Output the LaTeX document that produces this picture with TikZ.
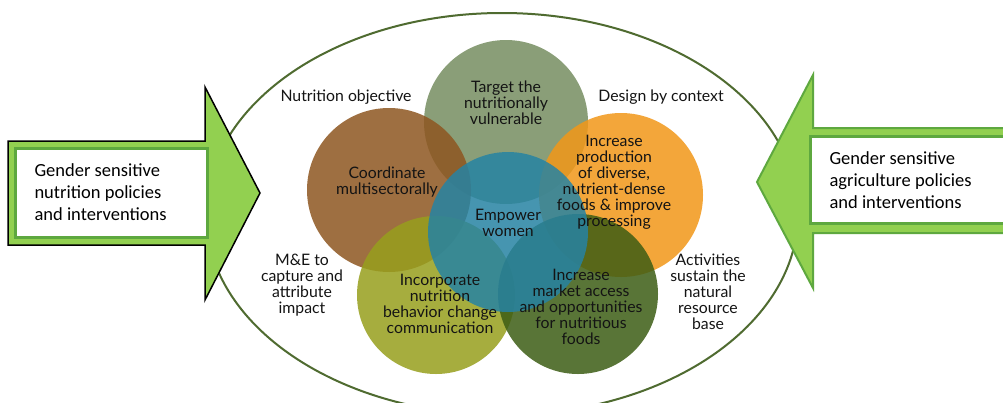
\documentclass[tikz,border=0pt]{standalone}
\usepackage{fontspec}
\setmainfont{Lato}
\newfontfamily\boxfont{Carlito}
\usetikzlibrary{shapes.geometric}

\definecolor{ringgreen}{HTML}{4F6B30}
\definecolor{arrowfill}{HTML}{92D050}
\definecolor{arrowline}{HTML}{5EA83F}
\definecolor{cTarget}{HTML}{768E61}
\definecolor{cCoord}{HTML}{8E5620}
\definecolor{cProd}{HTML}{F29718}
\definecolor{cWomen}{HTML}{2683A3}
\definecolor{cBcc}{HTML}{979F1D}
\definecolor{cMarket}{HTML}{3D5D14}
\definecolor{inktext}{HTML}{141414}

\tikzset{
  petal/.style={circle, minimum size=164pt, inner sep=0pt, draw=none, fill opacity=0.85},
  ptext/.style={align=center, text=inktext, font=\fontsize{15.8}{16}\selectfont},
  boxtext/.style={align=left, anchor=west, text=black, font=\boxfont\fontsize{18.5}{22}\selectfont},
  blockarrow/.style={fill=arrowfill},
  labelbox/.style={fill=white, draw=arrowline, line width=3pt},
}

\begin{document}
\begin{tikzpicture}[x=1pt, y=-1pt]
  \useasboundingbox (0,0) rectangle (1003,402);
  \fill[white] (0,0) rectangle (1003,402);

  % outer ring
  \node[ellipse, draw=ringgreen, line width=2pt, minimum width=592pt, minimum height=402pt, inner sep=0pt] (ring) at (502,214) {};

  % overlapping petals
  \node[petal, fill=cTarget] (pTarget) at (506,122) {};
  \node[petal, fill=cCoord]  (pCoord)  at (389,190) {};
  \node[petal, fill=cProd]   (pProd)   at (621,195) {};
  \node[petal, fill=cBcc, minimum size=158pt]    (pBcc)    at (436,295) {};
  \node[petal, fill=cMarket, minimum size=160pt] (pMarket) at (578,294) {};
  \node[petal, fill=cWomen, minimum size=160pt]  (pWomen)  at (508,232) {};

  % petal texts
  \node[ptext] (tTarget) at (506,103) {Target the\\nutritionally\\vulnerable};
  \node[ptext] (tCoord)  at (387,182) {Coordinate\\multisectorally};
  \node[ptext] (tProd)   at (614,182) {Increase\\production\\of diverse,\\nutrient-dense\\foods \& improve\\processing};
  \node[ptext] (tWomen)  at (508,223) {Empower\\women};
  \node[ptext] (tBcc)    at (440,304) {Incorporate\\nutrition\\behavior change\\communication};
  \node[ptext] (tMarket) at (581,307) {Increase\\market access\\and opportunities\\for nutritious\\foods};

  % principles around the ring
  \node[ptext] (lObj)    at (346,97)  {Nutrition objective};
  \node[ptext] (lCtx)    at (661,97)  {Design by context};
  \node[ptext] (lME)     at (302,285) {M\&E to\\capture and\\attribute\\impact};
  \node[ptext] (lAct)    at (708,292) {Activities\\sustain the\\natural\\resource\\base};

  % left block arrow
  \draw[blockarrow, draw=black, line width=1.5pt, line join=miter]
    (8,141) -- (205,141) -- (205,87) -- (260,193) -- (205,300) -- (205,245) -- (8,245) -- cycle;
  \draw[labelbox] (15,148) rectangle (207,237);
  \node[boxtext] (tLeft) at (31,192) {Gender sensitive\\nutrition policies\\and interventions};

  % right block arrow
  \draw[blockarrow, draw=arrowline, line width=2pt, line join=miter]
    (1010,128) -- (813,128) -- (813,75) -- (757,182) -- (813,288) -- (813,233) -- (1010,233);
  \draw[labelbox] (810,136) rectangle (1004,223);
  \node[boxtext] (tRight) at (826,180) {Gender sensitive\\agriculture policies\\and interventions};
\end{tikzpicture}
\end{document}
